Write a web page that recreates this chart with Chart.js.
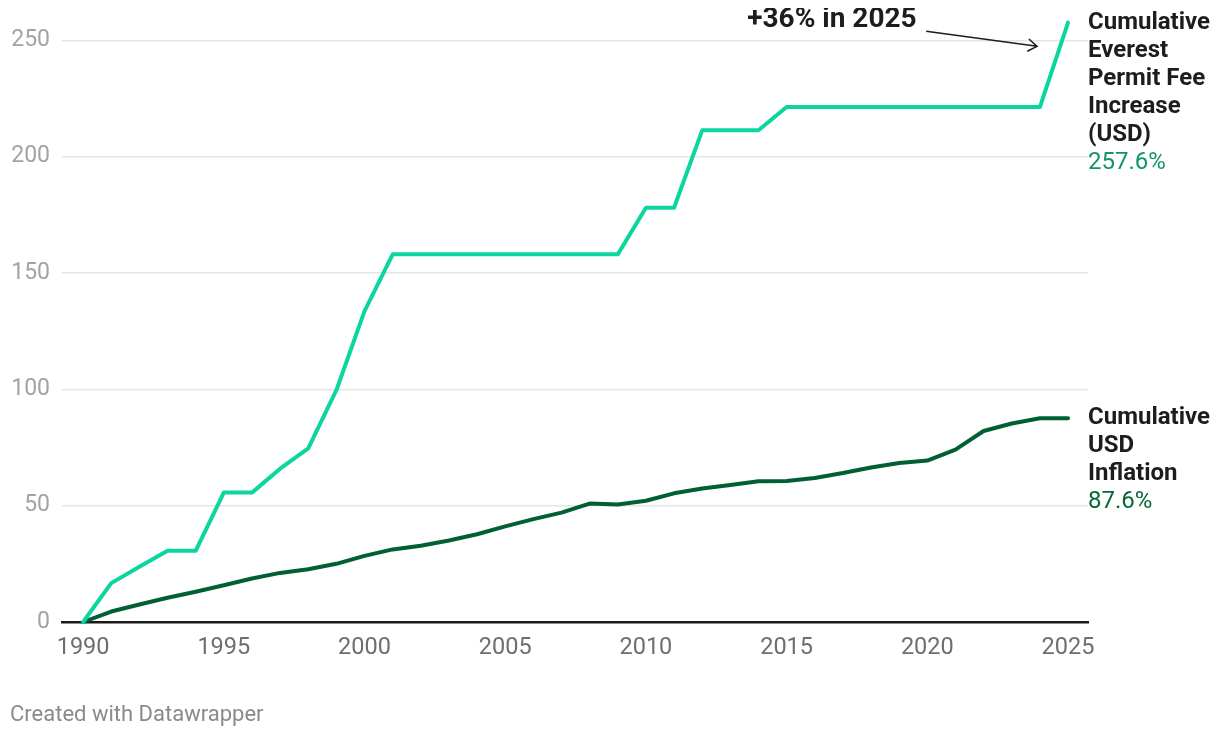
<!DOCTYPE html>
<html>
<head>
<meta charset="utf-8">
<script src="https://cdn.jsdelivr.net/npm/chart.js@4"></script>
<style>
  html, body { margin: 0; padding: 0; background: #fff; }
  #wrap { width: 1220px; height: 738px; }
</style>
</head>
<body>
<div id="wrap"><canvas id="chart" width="1220" height="738"></canvas></div>
<script>
// données
const years = [1990, 1991, 1992, 1993, 1994, 1995, 1996, 1997, 1998, 1999,
               2000, 2001, 2002, 2003, 2004, 2005, 2006, 2007, 2008, 2009,
               2010, 2011, 2012, 2013, 2014, 2015, 2016, 2017, 2018, 2019,
               2020, 2021, 2022, 2023, 2024, 2025];
const permitFeeIncrease = [0, 16.7, 23.7, 30.6, 30.6, 55.6, 55.6, 65.9, 74.6, 99.6,
                           133.6, 158.0, 158.0, 158.0, 158.0, 158.0, 158.0, 158.0, 158.0, 158.0,
                           178.0, 178.0, 211.3, 211.3, 211.3, 221.3, 221.3, 221.3, 221.3, 221.3,
                           221.3, 221.3, 221.3, 221.3, 221.3, 257.6];
const usdInflation = [0, 4.5, 7.5, 10.4, 13.0, 15.8, 18.7, 21.1, 22.7, 25.0,
                      28.4, 31.2, 32.8, 35.0, 37.7, 41.1, 44.2, 47.0, 50.9, 50.5,
                      52.1, 55.3, 57.4, 58.9, 60.5, 60.6, 61.9, 64.0, 66.4, 68.3,
                      69.4, 74.1, 82.1, 85.3, 87.6, 87.6];
const xTicks = [1990, 1995, 2000, 2005, 2010, 2015, 2020, 2025];
const yTicks = [0, 50, 100, 150, 200, 250];

const permitLabel = ['Cumulative', 'Everest', 'Permit Fee', 'Increase', '(USD)'];
const inflationLabel = ['Cumulative', 'USD', 'Inflation'];
const permitValueText = '257.6%';
const inflationValueText = '87.6%';
const annotationText = '+36% in 2025';
const footerText = 'Created with Datawrapper';

const FONT = 'Roboto, "Noto Sans", sans-serif';
const PERMIT_COLOR = '#0bd6a0';
const INFLATION_COLOR = '#005f33';

// libellés à droite, annotation et pied de page
const overlayPlugin = {
    id: 'overlay',
    afterDatasetsDraw(chart) {
        const ctx = chart.ctx;
        const x = chart.scales.x;
        const y = chart.scales.y;

        function endLabel(datasetIndex, lines, valueText, valueColor) {
            const pts = chart.getDatasetMeta(datasetIndex).data;
            const last = pts[pts.length - 1];
            const left = chart.chartArea.right;
            ctx.save();
            ctx.textAlign = 'left';
            ctx.textBaseline = 'middle';
            ctx.font = 'bold 24px ' + FONT;
            ctx.fillStyle = '#1d1d1d';
            lines.forEach((t, i) => ctx.fillText(t, left, last.y + i * 28));
            ctx.font = '24px ' + FONT;
            ctx.fillStyle = valueColor;
            ctx.fillText(valueText, left, last.y + lines.length * 28);
            ctx.restore();
        }
        endLabel(0, permitLabel, permitValueText, '#12946a');
        endLabel(1, inflationLabel, inflationValueText, '#0b6636');

        // annotation "+36% in 2025" (coupée en haut comme l'original) avec flèche
        ctx.save();
        ctx.beginPath();
        ctx.rect(0, 8, chart.width, chart.height);
        ctx.clip();
        ctx.font = 'bold 28px ' + FONT;
        ctx.fillStyle = '#1d1d1d';
        ctx.textAlign = 'right';
        ctx.textBaseline = 'alphabetic';
        ctx.fillText(annotationText, x.getPixelForValue(2019.62), y.getPixelForValue(255.8));
        ctx.restore();

        ctx.save();
        const x0 = x.getPixelForValue(2019.96), y0 = y.getPixelForValue(253.9);
        const x1 = x.getPixelForValue(2023.9), y1 = y.getPixelForValue(247.4);
        ctx.strokeStyle = '#1d1d1d';
        ctx.lineWidth = 1.5;
        ctx.beginPath();
        ctx.moveTo(x0, y0);
        ctx.lineTo(x1, y1);
        const ang = Math.atan2(y1 - y0, x1 - x0);
        const len = 11;
        ctx.moveTo(x1 - len * Math.cos(ang - 0.6), y1 - len * Math.sin(ang - 0.6));
        ctx.lineTo(x1, y1);
        ctx.lineTo(x1 - len * Math.cos(ang + 0.6), y1 - len * Math.sin(ang + 0.6));
        ctx.stroke();

        // pied de page
        ctx.font = '22px ' + FONT;
        ctx.fillStyle = '#8a8a8a';
        ctx.textAlign = 'left';
        ctx.textBaseline = 'middle';
        ctx.fillText(footerText, 10, 715);
        ctx.restore();
    }
};

const ctx = document.getElementById('chart').getContext('2d');
new Chart(ctx, {
    type: 'line',
    data: {
        datasets: [
            {
                label: permitLabel.join(' '),
                data: years.map((yr, i) => ({ x: yr, y: permitFeeIncrease[i] })),
                borderColor: PERMIT_COLOR,
                borderWidth: 4,
                pointRadius: 0,
                tension: 0,
                clip: false,
                borderJoinStyle: 'round',
                borderCapStyle: 'round'
            },
            {
                label: inflationLabel.join(' '),
                data: years.map((yr, i) => ({ x: yr, y: usdInflation[i] })),
                borderColor: INFLATION_COLOR,
                borderWidth: 4,
                pointRadius: 0,
                tension: 0,
                clip: false,
                borderJoinStyle: 'round',
                borderCapStyle: 'round'
            }
        ]
    },
    options: {
        responsive: false,
        animation: false,
        layout: { padding: { left: 0, right: 132, top: 17, bottom: 76 } },
        plugins: {
            legend: { display: false },
            tooltip: { enabled: false }
        },
        scales: {
            x: {
                type: 'linear',
                min: 1989.25,
                max: 2025.71,
                afterBuildTicks: axis => { axis.ticks = xTicks.map(v => ({ value: v })); },
                afterFit: axis => {
                    axis.height = 40;
                    axis.paddingLeft = 0;
                    axis.paddingRight = 0;
                },
                grid: { display: false, drawTicks: false },
                border: { display: true, color: '#1a1a1a', width: 2.5 },
                ticks: {
                    padding: 12,
                    maxRotation: 0,
                    color: '#6e6e6e',
                    font: { family: FONT, size: 23.5 },
                    callback: v => String(v)
                }
            },
            y: {
                min: 0,
                max: 260,
                afterBuildTicks: axis => { axis.ticks = yTicks.map(v => ({ value: v })); },
                afterFit: axis => {
                    axis.width = 62;
                    axis.paddingTop = 0;
                    axis.paddingBottom = 0;
                },
                grid: {
                    drawTicks: false,
                    color: c => c.tick.value === 0 ? 'rgba(0,0,0,0)' : '#e5e5e5',
                    lineWidth: 1.5
                },
                border: { display: false },
                ticks: {
                    padding: 12,
                    color: '#a3a3a3',
                    font: { family: FONT, size: 23 }
                }
            }
        }
    },
    plugins: [overlayPlugin]
});
</script>
</body>
</html>
